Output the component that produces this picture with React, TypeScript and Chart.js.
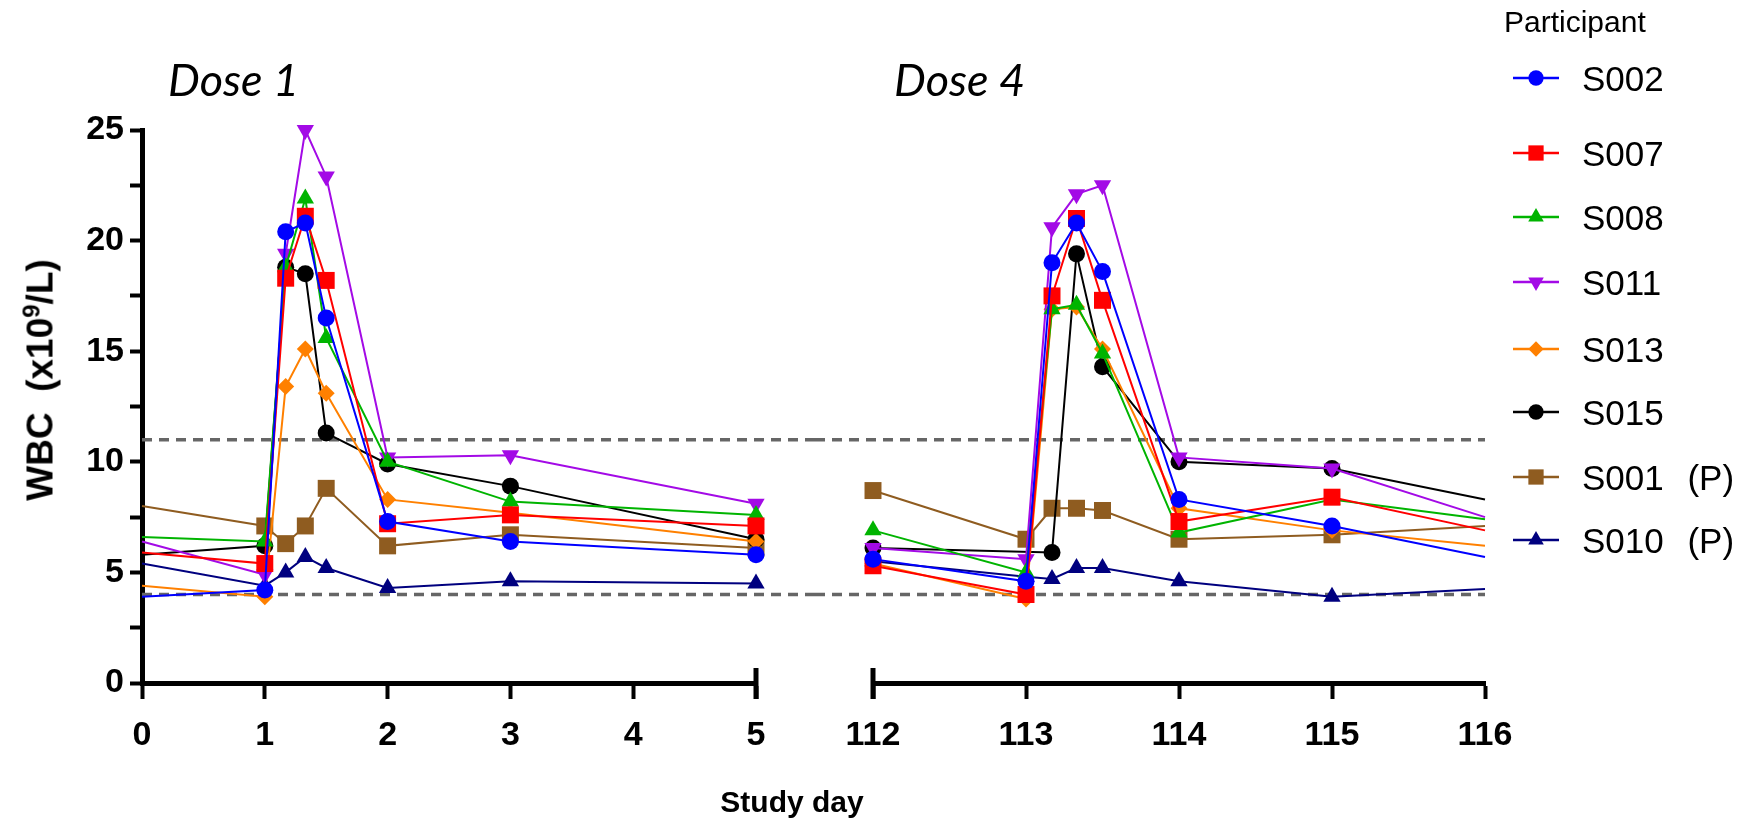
import React, { useEffect, useRef } from 'react';
import { Chart, registerables } from 'chart.js';
import { drawPoint } from 'chart.js/helpers';

Chart.register(...registerables);

const FONT = "'Liberation Sans', Arial, sans-serif";

// ---------- data ----------
const participants = ['S002', 'S007', 'S008', 'S011', 'S013', 'S015', 'S001 (P)', 'S010 (P)'];
const colors = ['#0000ff', '#ff0000', '#00b400', '#a30ae6', '#ff8000', '#000000', '#8f5c20', '#00007f'];
const pointStyles = ['circle', 'rect', 'triangle', 'triangle', 'rectRot', 'circle', 'rect', 'triangle'];
const pointRotations = [0, 0, 0, 180, 0, 0, 0, 0];
const markerRadius = [8.5, 12, 10, 10, 8.5, 8.5, 12, 10];

// Dose 1 window (first value = level where the line enters at day 0, no marker)
const dose1Days = [0, 1, 1.17, 1.33, 1.5, 2, 3, 5];
const s002_d1 = [3.9, 4.2, 20.4, 20.8, 16.5, 7.3, 6.4, 5.8];
const s007_d1 = [5.9, 5.4, 18.3, 21.1, 18.2, 7.2, 7.6, 7.1];
const s008_d1 = [6.6, 6.4, 18.8, 21.9, 15.6, 10.0, 8.2, 7.6];
const s011_d1 = [6.4, 4.9, 19.4, 25.0, 22.9, 10.2, 10.3, 8.1];
const s013_d1 = [4.4, 3.9, 13.4, 15.1, 13.1, 8.3, 7.7, 6.4];
const s015_d1 = [5.8, 6.2, 18.8, 18.5, 11.3, 9.9, 8.9, 6.5];
const s001_d1 = [8.0, 7.1, 6.3, 7.1, 8.8, 6.2, 6.7, 6.1];
const s010_d1 = [5.4, 4.4, 5.0, 5.7, 5.2, 4.3, 4.6, 4.5];

// Dose 4 window (last value = level where the line leaves at day 116, no marker)
const dose4Days = [112, 113, 113.17, 113.33, 113.5, 114, 115, 116];
const s002_d4 = [5.6, 4.6, 19.0, 20.8, 18.6, 8.3, 7.1, 5.7];
const s007_d4 = [5.3, 4.0, 17.5, 21.0, 17.3, 7.3, 8.4, 6.9];
const s008_d4 = [6.9, 5.0, 16.9, 17.1, 14.9, 6.8, 8.3, 7.4];
const s011_d4 = [6.1, 5.6, 20.6, 22.1, 22.5, 10.2, 9.7, 7.5];
const s013_d4 = [5.4, 3.8, 16.9, 17.0, 15.1, 7.9, 6.9, 6.2];
const s015_d4 = [6.1, null, 5.9, 19.4, 14.3, 10.0, 9.7, 8.3];
const s001_d4 = [8.7, 6.5, 7.9, 7.9, 7.8, 6.5, 6.7, 7.1];
const s010_d4 = [5.5, 4.8, 4.7, 5.2, 5.2, 4.6, 3.9, 4.25];

const refLines = [4, 11];
const yTicksMax = 25;

const seriesDose1 = [s002_d1, s007_d1, s008_d1, s011_d1, s013_d1, s015_d1, s001_d1, s010_d1];
const seriesDose4 = [s002_d4, s007_d4, s008_d4, s011_d4, s013_d4, s015_d4, s001_d4, s010_d4];

// ---------- chart helpers ----------
function buildDatasets(days: number[], series: (number | null)[][], hiddenIdx: number) {
  return participants.map((label, i) => ({
    label,
    data: days.map((x, j) => ({ x, y: series[i][j] })),
    borderColor: colors[i],
    backgroundColor: colors[i],
    borderWidth: 2,
    pointStyle: pointStyles[i],
    rotation: pointRotations[i],
    pointRadius: (c: any) => (c.dataIndex === hiddenIdx ? 0 : markerRadius[i]),
    pointHoverRadius: 0,
    pointBorderWidth: 0,
    spanGaps: true,
    tension: 0,
    clip: false as any,
  }));
}

const axisDecor = {
  id: 'axisDecor',
  beforeDatasetsDraw(chart: any, _args: any, opts: any) {
    const { ctx, chartArea } = chart;
    const y = chart.scales.y;
    const x0 = opts.refFrom === 'left' ? chartArea.left : 0;
    const x1 = opts.refFrom === 'left' ? chart.width : chartArea.right;
    ctx.save();
    ctx.strokeStyle = '#666666';
    ctx.lineWidth = 3.5;
    ctx.setLineDash([10, 7]);
    for (const v of refLines) {
      const py = y.getPixelForValue(v);
      ctx.beginPath();
      ctx.moveTo(x0, py);
      ctx.lineTo(x1, py);
      ctx.stroke();
    }
    ctx.restore();
  },
  afterDraw(chart: any, _args: any, opts: any) {
    const { ctx, chartArea } = chart;
    const x = chart.scales.x.getPixelForValue(opts.capValue);
    ctx.save();
    ctx.strokeStyle = '#000';
    ctx.lineWidth = 5;
    ctx.beginPath();
    ctx.moveTo(x, chartArea.bottom - 15);
    ctx.lineTo(x, chartArea.bottom + 16);
    ctx.stroke();
    ctx.restore();
  },
};

function panelOptions(xMin: number, xMax: number, showY: boolean, capValue: number) {
  const tickFont = { family: FONT, size: 34, weight: 'bold' as const };
  return {
    responsive: false,
    animation: false as const,
    events: [] as any[],
    layout: {
      padding: showY
        ? { left: 0, right: 59, top: 130, bottom: 0 }
        : { left: 58, right: 60, top: 130, bottom: 0 },
    },
    plugins: {
      legend: { display: false },
      tooltip: { enabled: false },
      axisDecor: { capValue, refFrom: showY ? 'left' : 'right' },
    },
    scales: {
      x: {
        type: 'linear' as const,
        min: xMin,
        max: xMax,
        ticks: { stepSize: 1, autoSkip: false, maxRotation: 0, color: '#000', font: tickFont, padding: 16 },
        grid: { drawOnChartArea: false, tickLength: 16, tickWidth: 4, tickColor: '#000' },
        border: { display: true, color: '#000', width: 5 },
        afterFit: (s: any) => { s.height = 140; },
      },
      y: {
        type: 'linear' as const,
        display: showY,
        min: 0,
        max: yTicksMax,
        ticks: {
          stepSize: 2.5,
          autoSkip: false,
          color: '#000',
          font: tickFont,
          padding: 6,
          callback: (v: any) => (Number(v) % 5 === 0 ? String(v) : ''),
        },
        grid: { drawOnChartArea: false, tickLength: 12, tickWidth: 4, tickColor: '#000' },
        border: { display: true, color: '#000', width: 5 },
        afterFit: (s: any) => { s.width = showY ? 142 : 0; },
      },
    },
  };
}

function Panel(props: { left: number; width: number; days: number[]; series: (number | null)[][]; hiddenIdx: number; xMin: number; xMax: number; showY: boolean; cap: number }) {
  const ref = useRef<HTMLCanvasElement | null>(null);
  useEffect(() => {
    const chart = new Chart(ref.current as HTMLCanvasElement, {
      type: 'line',
      data: { datasets: buildDatasets(props.days, props.series, props.hiddenIdx) as any },
      options: panelOptions(props.xMin, props.xMax, props.showY, props.cap) as any,
      plugins: [axisDecor as any],
    });
    return () => chart.destroy();
  }, []);
  return (
    <canvas
      ref={ref}
      width={props.width}
      height={823}
      style={{ position: 'absolute', left: props.left, top: 0, width: props.width, height: 823 }}
    />
  );
}

const legendY = [78, 153, 217, 282, 349, 412, 477, 540];

function LegendSymbol({ i }: { i: number }) {
  const ref = useRef<HTMLCanvasElement | null>(null);
  useEffect(() => {
    const c = ref.current as HTMLCanvasElement;
    const ctx = c.getContext('2d') as CanvasRenderingContext2D;
    ctx.clearRect(0, 0, c.width, c.height);
    ctx.strokeStyle = colors[i];
    ctx.lineWidth = 2.5;
    ctx.beginPath();
    ctx.moveTo(2, 15);
    ctx.lineTo(48, 15);
    ctx.stroke();
    ctx.fillStyle = colors[i];
    ctx.strokeStyle = colors[i];
    drawPoint(ctx, { pointStyle: pointStyles[i] as any, rotation: pointRotations[i], radius: markerRadius[i] * 0.9, borderWidth: 0 }, 25, 15);
  }, [i]);
  return <canvas ref={ref} width={50} height={30} style={{ position: 'absolute', left: 1511, top: legendY[i] - 15 }} />;
}

const textBase: React.CSSProperties = { position: 'absolute', lineHeight: 1, whiteSpace: 'nowrap', color: '#000' };

export default function App() {
  return (
    <div style={{ position: 'absolute', left: 0, top: 0, width: 1747, height: 823, background: '#fff', overflow: 'hidden' }}>
      <Panel left={0} width={815} days={dose1Days} series={seriesDose1} hiddenIdx={0} xMin={0} xMax={5} showY={true} cap={5} />
      <Panel left={815} width={730} days={dose4Days} series={seriesDose4} hiddenIdx={7} xMin={112} xMax={116} showY={false} cap={112} />

      <div style={{ ...textBase, left: 168, top: 79, transform: 'translateY(-50%)', fontFamily: 'Lato, sans-serif', fontStyle: 'italic', fontSize: 45 }}>Dose 1</div>
      <div style={{ ...textBase, left: 894, top: 79, transform: 'translateY(-50%)', fontFamily: 'Lato, sans-serif', fontStyle: 'italic', fontSize: 45 }}>Dose 4</div>

      <div style={{ ...textBase, left: 40, top: 380, transform: 'translate(-50%, -50%) rotate(-90deg)', fontFamily: FONT, fontWeight: 'bold', fontSize: 37 }}>
        WBC&nbsp;&nbsp;(x10<sup style={{ fontSize: '0.65em', lineHeight: 0 }}>9</sup>/L)
      </div>

      <div style={{ ...textBase, left: 792, top: 802, transform: 'translate(-50%, -50%)', fontFamily: FONT, fontWeight: 'bold', fontSize: 30 }}>Study day</div>

      <div style={{ ...textBase, left: 1504, top: 22, transform: 'translateY(-50%)', fontFamily: FONT, fontSize: 30 }}>Participant</div>
      {participants.map((p, i) => (
        <React.Fragment key={p}>
          <LegendSymbol i={i} />
          <div style={{ ...textBase, left: 1582, top: legendY[i], transform: 'translateY(-50%)', fontFamily: FONT, fontSize: 35, wordSpacing: 14 }}>{p}</div>
        </React.Fragment>
      ))}
    </div>
  );
}
